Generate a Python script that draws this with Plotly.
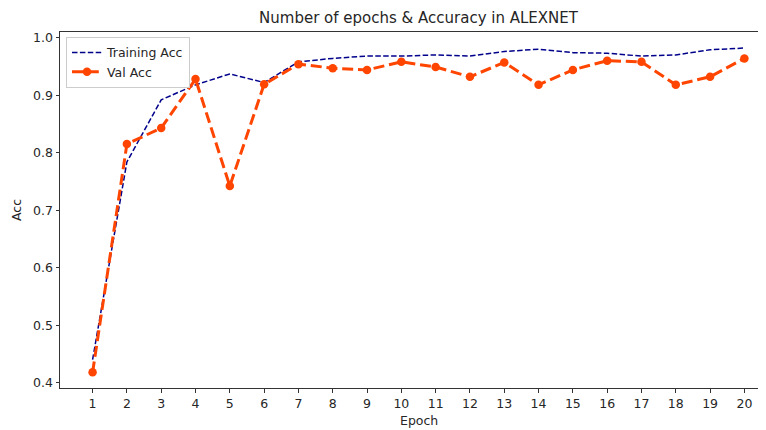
import plotly.graph_objects as go

epochs = list(range(1, 21))
train_acc = [0.44, 0.784, 0.892, 0.918, 0.937, 0.922, 0.958, 0.964, 0.968, 0.968,
             0.970, 0.968, 0.976, 0.980, 0.974, 0.973, 0.968, 0.970, 0.979, 0.982]
val_acc = [0.418, 0.815, 0.843, 0.928, 0.742, 0.919, 0.954, 0.947, 0.944, 0.958,
           0.949, 0.932, 0.957, 0.918, 0.944, 0.960, 0.958, 0.918, 0.932, 0.964]
y_ticks = [0.4, 0.5, 0.6, 0.7, 0.8, 0.9, 1.0]

FONT = "DejaVu Sans"
TXT = "#262626"
OFF = 8  # page body margin

fig = go.Figure()
fig.add_trace(go.Scatter(
    x=epochs, y=train_acc, mode="lines", name="Training Acc",
    line=dict(color="#00008B", width=1.5, dash="5.5px,2.4px"),
))
fig.add_trace(go.Scatter(
    x=epochs, y=val_acc, mode="lines+markers", name="Val Acc",
    line=dict(color="#FF4500", width=3, dash="11px,4.8px"),
    marker=dict(color="#FF4500", size=8.5),
))

W, H = 766 - OFF, 430 - OFF
fig.update_layout(
    width=W, height=H,
    margin=dict(l=60 - OFF, r=0, t=32 - OFF, b=42, pad=0),
    paper_bgcolor="white", plot_bgcolor="white",
    font=dict(family=FONT, size=12.5, color=TXT),
    showlegend=True,
    legend=dict(
        x=0.0085, y=0.986, xanchor="left", yanchor="top",
        bgcolor="rgba(255,255,255,0.8)", bordercolor="#cccccc", borderwidth=1,
        font=dict(family=FONT, size=12.5, color=TXT),
        itemwidth=30, tracegroupgap=0,
    ),
    title=dict(
        text="Number of epochs & Accuracy in ALEXNET",
        x=(418.5 - 60) / 706, xanchor="center", xref="paper",
        y=1 - (18 - OFF) / H, yanchor="middle", yref="container",
        font=dict(family=FONT, size=15, color=TXT),
    ),
)
fig.update_xaxes(
    range=[0.05, 20.63], tickmode="array", tickvals=epochs,
    ticktext=[str(e) for e in epochs],
    showgrid=False, zeroline=False,
    showline=True, linecolor="#333333", linewidth=1, mirror=True,
    ticks="outside", ticklen=3.5, tickcolor="#333333", tickwidth=0.8,
    tickfont=dict(family=FONT, size=12.5, color=TXT),
)
fig.update_yaxes(
    range=[0.3908, 1.0099], tickmode="array", tickvals=y_ticks,
    ticktext=[f"{v:.1f}" for v in y_ticks],
    showgrid=False, zeroline=False,
    showline=True, linecolor="#333333", linewidth=1,
    ticks="outside", ticklen=3.5, tickcolor="#333333", tickwidth=0.8,
    tickfont=dict(family=FONT, size=12.5, color=TXT),
)
fig.add_annotation(text="Epoch", xref="paper", yref="paper",
                   x=(418.5 - 60) / 706, y=-(420 - 388) / 356,
                   xanchor="center", yanchor="middle", showarrow=False,
                   font=dict(family=FONT, size=12.5, color=TXT))
fig.add_annotation(text="Acc", xref="paper", yref="paper",
                   x=-(60 - 16) / 706, y=0.5, textangle=-90,
                   xanchor="center", yanchor="middle", showarrow=False,
                   font=dict(family=FONT, size=12.5, color=TXT))

fig.write_html("out.html")
